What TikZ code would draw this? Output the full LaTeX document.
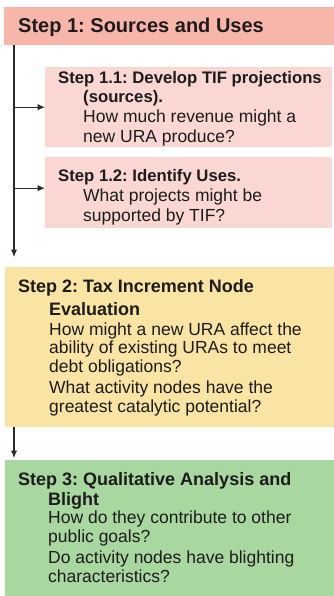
\documentclass[tikz,border=0pt]{standalone}
\usepackage{fontspec}
\setmainfont{Liberation Sans}
\usetikzlibrary{arrows.meta}
\definecolor{sonecol}{HTML}{F8B5A9}
\definecolor{subcol}{HTML}{FAD7D3}
\definecolor{stwocol}{HTML}{FAE4A3}
\definecolor{sthreecol}{HTML}{A9D7A0}
\definecolor{txtcol}{HTML}{1C1C1C}
\definecolor{linecol}{HTML}{2A2A2A}
\frenchspacing
\begin{document}
\begin{tikzpicture}[x=1pt,y=-1pt,
  box/.style={draw=none, rectangle, inner sep=0pt, anchor=north west},
  hbig/.style={anchor=base west, inner sep=0pt, text=txtcol, font=\fontsize{20}{24}\selectfont\bfseries},
  hmid/.style={anchor=base west, inner sep=0pt, text=txtcol, font=\fontsize{18}{22}\selectfont\bfseries},
  hsub/.style={anchor=base west, inner sep=0pt, text=txtcol, font=\fontsize{16.7}{20}\selectfont\bfseries},
  body/.style={anchor=base west, inner sep=0pt, text=txtcol, font=\fontsize{17.5}{20}\selectfont},
  conn/.style={draw=linecol, line width=1.1pt, -{Latex[length=7.5pt,width=6.5pt]}}
]
\useasboundingbox (0,0) rectangle (334,596);
\fill[white] (0,0) rectangle (334,596);

% boxes
\node[box, fill=sonecol, minimum width=330pt, minimum height=38pt] (s1) at (4,7) {};
\node[box, fill=subcol, minimum width=287pt, minimum height=80pt] (s11) at (45,67) {};
\node[box, fill=subcol, minimum width=287pt, minimum height=71pt] (s12) at (45,157) {};
\node[box, fill=stwocol, minimum width=329pt, minimum height=160pt] (s2) at (5,267) {};
\node[box, fill=sthreecol, minimum width=329pt, minimum height=136pt] (s3) at (5,460) {};

% Step 1
\node[hbig] (t1) at (18,33) {Step 1: Sources and Uses};

% Step 1.1
\node[hsub] (t11a) at (58,83.5) {Step 1.1: Develop TIF projections};
\node[hsub] (t11b) at (83,103) {(sources).};
\node[body] (t11c) at (83,123) {How much revenue might a};
\node[body] (t11d) at (83,142.5) {new URA produce?};

% Step 1.2
\node[hsub] (t12a) at (58,181.7) {Step 1.2: Identify Uses.};
\node[body] (t12b) at (83,201.5) {What projects might be};
\node[body] (t12c) at (83,221) {supported by TIF?};

% Step 2
\node[hmid] (t2a) at (18,292.5) {Step 2: Tax Increment Node};
\node[hmid] (t2b) at (49,315) {Evaluation};
\node[body] (t2c) at (49,335) {How might a new URA affect the};
\node[body] (t2d) at (49,353.5) {ability of existing URAs to meet};
\node[body] (t2e) at (49,372.5) {debt obligations?};
\node[body] (t2f) at (49,393) {What activity nodes have the};
\node[body] (t2g) at (49,412.5) {greatest catalytic potential?};

% Step 3
\node[hmid] (t3a) at (18,485) {Step 3: Qualitative Analysis and};
\node[hmid] (t3b) at (48,505) {Blight};
\node[body] (t3c) at (48,523.5) {How do they contribute to other};
\node[body] (t3d) at (48,542.5) {public goals?};
\node[body] (t3e) at (48,563) {Do activity nodes have blighting};
\node[body] (t3f) at (48,582.5) {characteristics?};

% connectors
\coordinate (trunk) at (14,0);
\coordinate (a12) at ([yshift=4.5pt]s12.west);
\draw[conn, shorten >=10pt] (trunk |- s1.south) -- (trunk |- s2.north);
\draw[conn] (trunk |- s11.west) -- (s11.west);
\draw[conn] (trunk |- a12) -- (a12);
\draw[conn, shorten >=2pt] (trunk |- s2.south) -- (trunk |- s3.north);
\end{tikzpicture}
\end{document}
